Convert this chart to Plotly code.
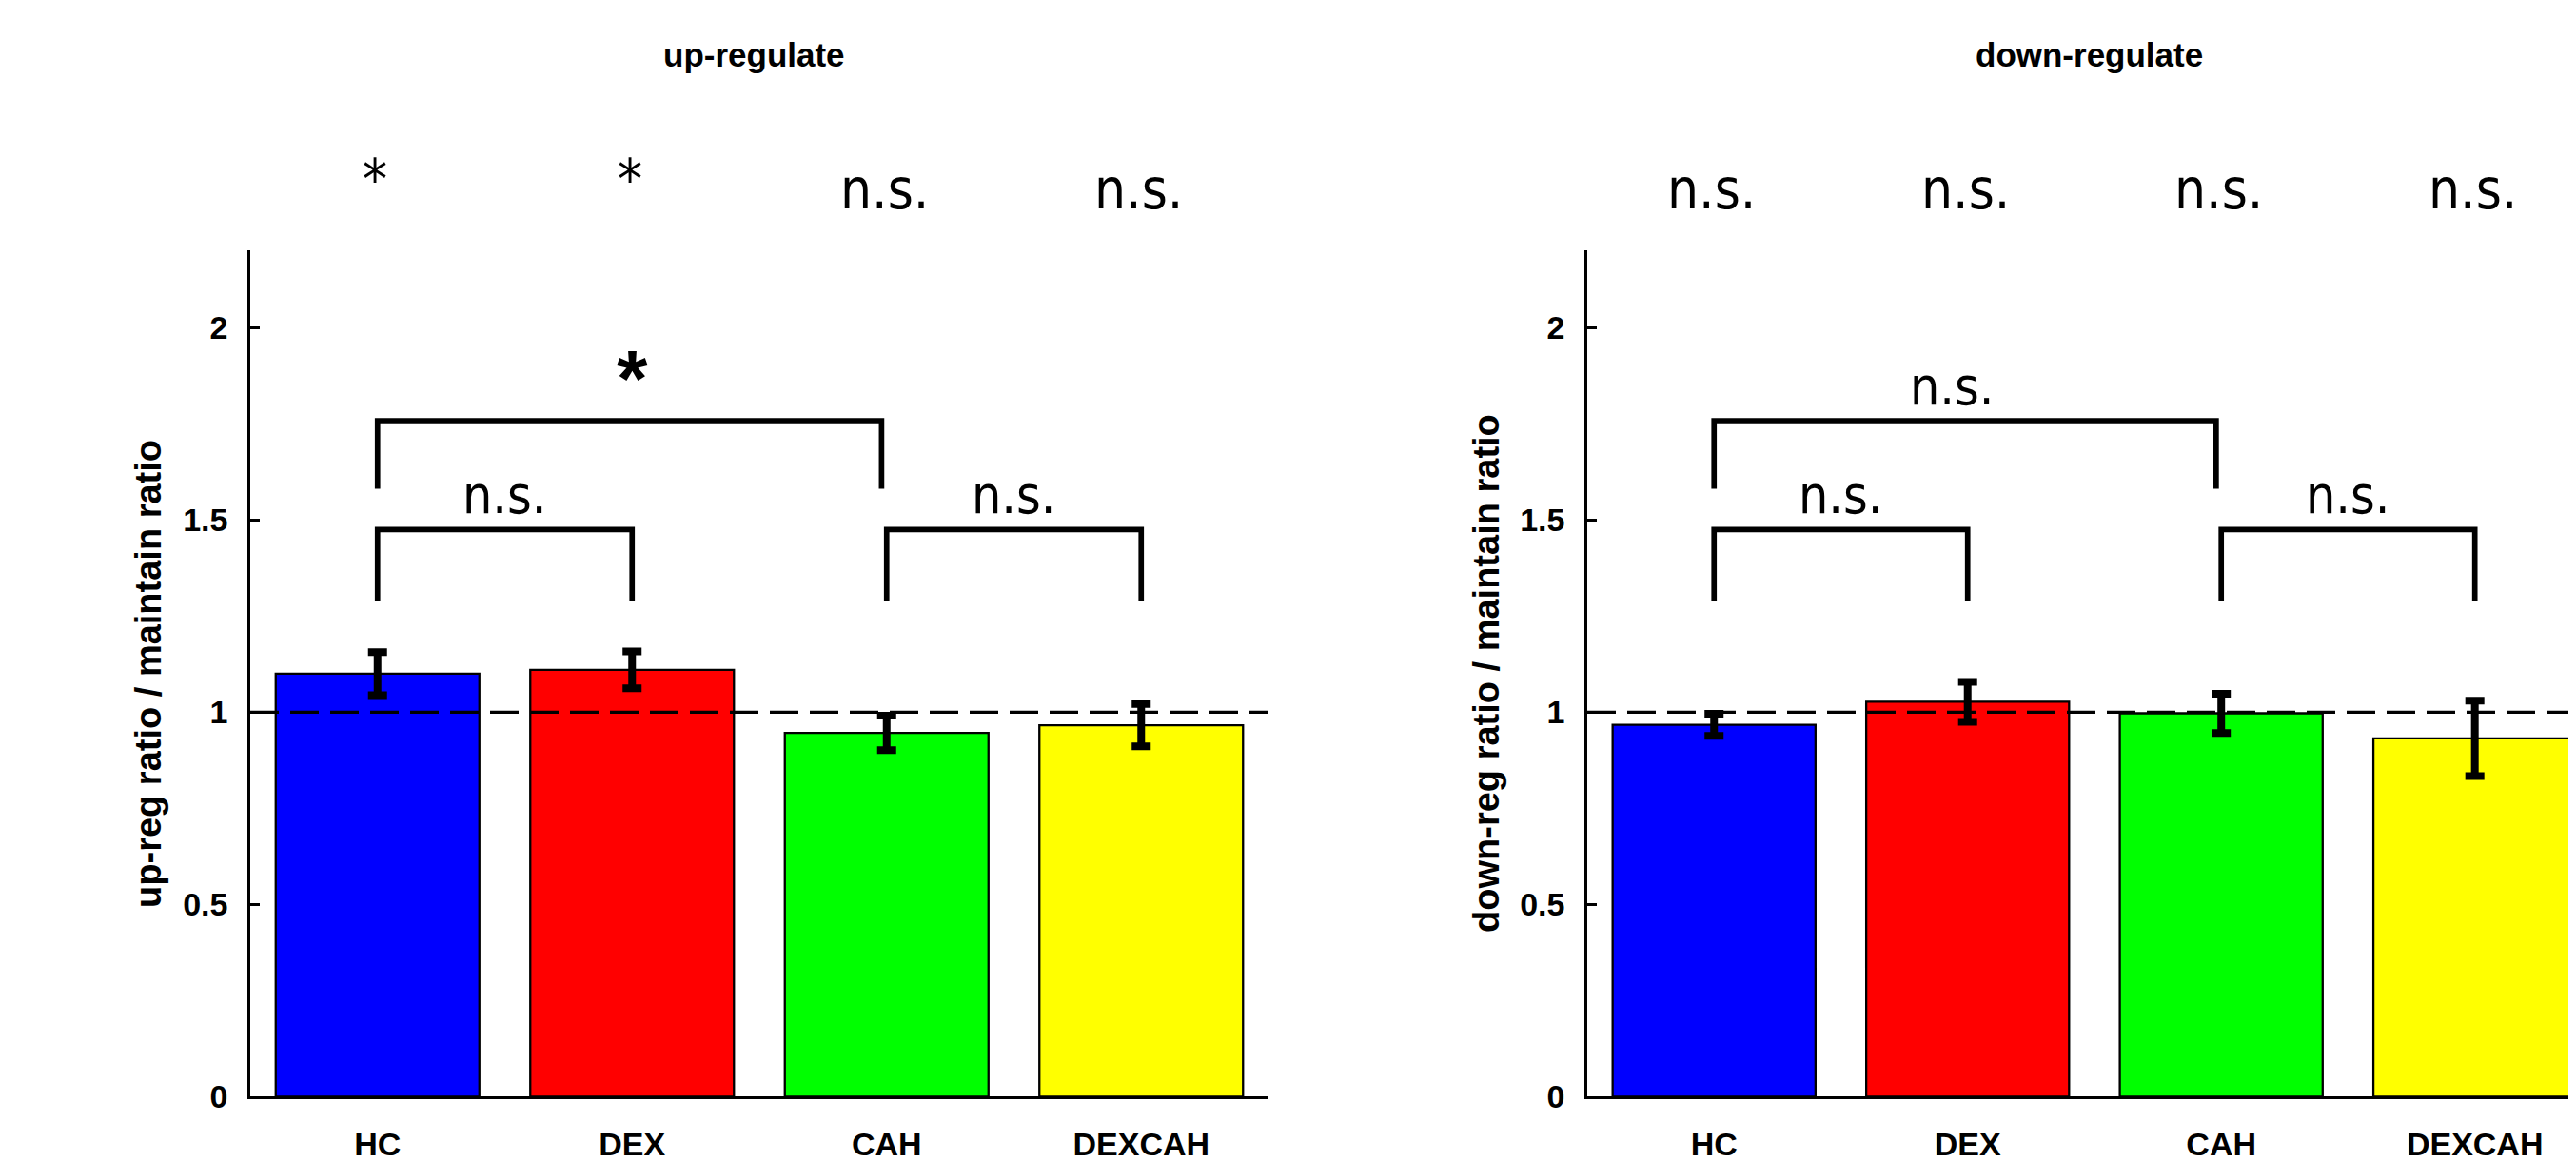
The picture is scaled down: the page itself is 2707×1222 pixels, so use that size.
import plotly.graph_objects as go

W, H = 2707, 1222

categories = ["HC", "DEX", "CAH", "DEXCAH"]
positions = [1, 2, 3, 4]
bar_colors = ["#0000ff", "#ff0000", "#00ff00", "#ffff00"]

up_values = [1.100, 1.110, 0.946, 0.966]
up_errors = [0.056, 0.048, 0.045, 0.055]
down_values = [0.967, 1.027, 0.997, 0.932]
down_errors = [0.029, 0.052, 0.051, 0.098]

up_top_labels = ["*", "*", "n.s.", "n.s."]
down_top_labels = ["n.s.", "n.s.", "n.s.", "n.s."]

# bracket comparisons: (x_left, x_right, bar height, leg bottom, label)
up_brackets = [
    (1, 2, 1.475, 1.29, "n.s."),
    (3, 4, 1.475, 1.29, "n.s."),
    (1, 2.98, 1.758, 1.581, "*"),
]
down_brackets = [
    (1, 2, 1.475, 1.29, "n.s."),
    (3, 4, 1.475, 1.29, "n.s."),
    (1, 2.98, 1.758, 1.581, "n.s."),
]

panel_titles = ["up-regulate", "down-regulate"]
y_titles = ["up-reg ratio / maintain ratio", "down-reg ratio / maintain ratio"]
y_ticks = [0, 0.5, 1, 1.5, 2]
y_ticktext = ["0", "0.5", "1", "1.5", "2"]

Y_MAX = 2.2
FONT = "Liberation Sans, Arial, sans-serif"
NARROW = "Liberation Sans Narrow, DejaVu Sans Condensed, Arial Narrow, sans-serif"

fig = go.Figure()

panels = [
    ("x", "y", up_values, up_errors, up_top_labels, up_brackets),
    ("x2", "y2", down_values, down_errors, down_top_labels, down_brackets),
]

annotations = []
shapes = []
for i, (xa, ya, vals, errs, toplabs, brackets) in enumerate(panels):
    fig.add_trace(go.Bar(
        x=positions, y=vals, width=0.8, xaxis=xa, yaxis=ya,
        marker=dict(color=bar_colors, line=dict(color="black", width=2.3)),
        error_y=dict(type="data", array=errs, color="black", thickness=8, width=10),
        showlegend=False, hoverinfo="skip",
    ))
    for (x0, x1, yb, yl, lab) in brackets:
        fig.add_trace(go.Scatter(
            x=[x0, x0, x1, x1], y=[yl, yb, yb, yl], mode="lines",
            line=dict(color="black", width=5.7), xaxis=xa, yaxis=ya,
            showlegend=False, hoverinfo="skip", cliponaxis=False,
        ))
        if lab == "*":
            annotations.append(dict(
                x=(x0 + x1) / 2 + 0.01, y=1.867, xref=xa, yref=ya, text=lab,
                showarrow=False, xanchor="center", yanchor="middle",
                font=dict(family=FONT, size=84, color="black", weight="bold"),
            ))
        else:
            annotations.append(dict(
                x=(x0 + x1) / 2 + (0.0 if yb < 1.6 else -0.05), y=yb + 0.005,
                xref=xa, yref=ya, text=lab,
                showarrow=False, xanchor="center", yanchor="bottom",
                font=dict(family=NARROW, size=55, color="black"),
            ))
    for p, lab in zip(positions, toplabs):
        y_lab = 2.294 if lab == "*" else 2.27
        annotations.append(dict(
            x=p - 0.01, y=y_lab / Y_MAX, xref=xa, yref=f"{ya} domain", text=lab,
            showarrow=False, xanchor="center", yanchor="bottom",
            font=dict(family=NARROW, size=58, color="black"),
        ))
    shapes.append(dict(
        type="line", xref=f"{xa} domain", yref=ya, x0=0, x1=1, y0=1, y1=1,
        line=dict(color="black", width=3.3, dash="30px,12px"), layer="above",
    ))
    annotations.append(dict(
        x=2.48, y=1 - 72 / H, xref=xa, yref="paper", text=panel_titles[i],
        showarrow=False, xanchor="center", yanchor="bottom",
        font=dict(family=FONT, size=35, color="black", weight="bold"),
    ))
    annotations.append(dict(
        x=(148 + 1406 * i) / W, y=0.5, xref="paper", yref=f"{ya} domain",
        text=y_titles[i], textangle=-90,
        showarrow=False, xanchor="center", yanchor="middle",
        font=dict(family=FONT, size=38, color="black", weight="bold"),
    ))

y_dom = [1 - 1162.5 / H, 1 - 259.4 / H]
xaxis_common = dict(
    tickvals=positions, ticktext=categories, showgrid=False, zeroline=False,
    showline=True, linecolor="black", linewidth=3, ticks="",
    tickfont=dict(family=FONT, size=34, color="black", weight="bold"),
    ticklabelstandoff=18, fixedrange=True,
)
yaxis_common = dict(
    range=[0, Y_MAX], tickvals=y_ticks, ticktext=y_ticktext, showgrid=False,
    zeroline=False, showline=True, linecolor="black", linewidth=2.5,
    ticks="inside", ticklen=10, tickwidth=2.5, tickcolor="black",
    tickfont=dict(family=FONT, size=34, color="black", weight="bold"),
    ticklabelstandoff=14, domain=y_dom, fixedrange=True,
)

fig.update_layout(
    width=W, height=H, margin=dict(l=0, r=0, t=0, b=0),
    paper_bgcolor="white", plot_bgcolor="white",
    xaxis=dict(xaxis_common, domain=[255 / W, 1325 / W], range=[0.5, 4.5], anchor="y"),
    yaxis=dict(yaxis_common, anchor="x"),
    xaxis2=dict(xaxis_common, domain=[1660 / W, 1.0], range=[0.5, 4.429], anchor="y2"),
    yaxis2=dict(yaxis_common, anchor="x2"),
    annotations=annotations, shapes=shapes, bargap=0.2,
)

fig.write_html("out.html")
